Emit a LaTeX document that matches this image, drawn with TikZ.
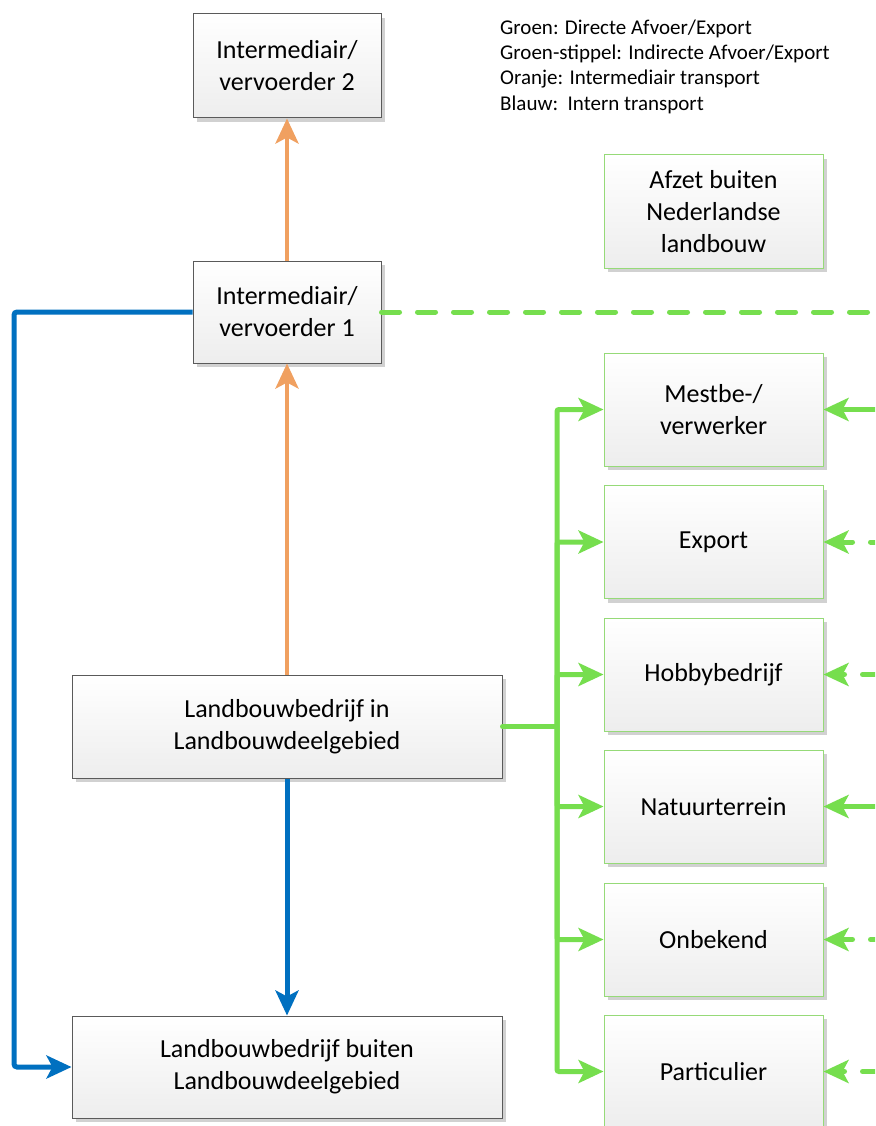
\documentclass[tikz,border=0pt]{standalone}
\usepackage{fontspec}
\setmainfont{Carlito}
\usetikzlibrary{arrows.meta,shadows}
\definecolor{lgreen}{RGB}{118,222,78}
\definecolor{bgreen}{RGB}{150,218,120}
\definecolor{lblue}{RGB}{0,112,192}
\definecolor{lorange}{RGB}{240,160,96}
\definecolor{gborder}{RGB}{90,90,90}
\begin{document}
\begin{tikzpicture}[x=1pt,y=-1pt,
  box/.style={rectangle, line width=1pt, top color=white, bottom color=black!7,
    drop shadow={shadow xshift=4pt, shadow yshift=-4pt, opacity=0.18, fill=black},
    align=center, inner sep=0pt, font=\fontsize{26}{32}\selectfont},
  graybox/.style={box, draw=gborder, minimum width=188pt},
  greenbox/.style={box, draw=bgreen, minimum width=219pt, minimum height=113pt},
  widebox/.style={box, draw=gborder, minimum width=430pt, minimum height=103pt},
  tip/.style={-{Stealth[length=25pt,width=23pt,inset=6pt]}},
  gline/.style={draw=lgreen, line width=5pt},
  garrow/.style={gline, tip, rounded corners=2pt},
  gdash/.style={gline, line cap=round, dash pattern=on 18pt off 18pt},
  barrow/.style={draw=lblue, line width=5pt, tip, rounded corners=3pt},
  oarrow/.style={draw=lorange, line width=4.5pt, tip},
  legend/.style={anchor=west, inner sep=0pt, font=\fontsize{21}{25}\selectfont}
]
\clip (0,0) rectangle (875,1126);
\fill[white] (0,0) rectangle (875,1126);

% gray boxes
\node[graybox, minimum height=104pt] (I2) at (287,66) {Intermediair/\\vervoerder 2};
\node[graybox, minimum height=102pt] (I1) at (287,312) {Intermediair/\\vervoerder 1};
\node[widebox] (Lin) at (287,726.5) {Landbouwbedrijf in\\Landbouwdeelgebied};
\node[widebox, minimum height=102pt] (Lout) at (287,1067) {Landbouwbedrijf buiten\\Landbouwdeelgebied};

% green boxes
\node[greenbox] (afz) at (713.5,211.5) {Afzet buiten\\Nederlandse\\landbouw};
\node[greenbox] (mest) at (713.5,409.5) {Mestbe-/\\verwerker};
\node[greenbox] (exp) at (713.5,542) {Export};
\node[greenbox] (hob) at (713.5,674.5) {Hobbybedrijf};
\node[greenbox] (nat) at (713.5,806.5) {Natuurterrein};
\node[greenbox] (onb) at (713.5,939.5) {Onbekend};
\node[greenbox] (par) at (713.5,1071.5) {Particulier};

% legend
\node[legend] (lg1) at (500,29) {Groen: Directe Afvoer/Export};
\node[legend] (lg2) at (500,54) {Groen-stippel: Indirecte Afvoer/Export};
\node[legend] (lg3) at (500,79) {Oranje: Intermediair transport};
\node[legend] (lg4) at (500,105) {Blauw:\ \ Intern transport};

% orange arrows
\draw[oarrow] (Lin.north) -- (I1.south);
\draw[oarrow] (I1.north) -- (I2.south);

% blue arrows
\coordinate (bl) at (14,312);
\draw[barrow] (I1.west) -- (bl) |- (Lout.west);
\draw[barrow] (Lin.south) -- (Lout.north);

% green direct
\coordinate (tj) at (557,726.5);
\draw[gline, line cap=round] (Lin.east) -- (tj);
\foreach \b in {mest,exp,hob,nat,onb,par}{
  \draw[garrow] (tj) |- (\b.west);
}

% green dashed top
\coordinate (dtop) at (900,312);
\draw[gdash] (I1.east) -- (dtop);

% right side incoming
\coordinate (rm) at (900,409.5);
\coordinate (re) at (900,542);
\coordinate (rh) at (900,674.5);
\coordinate (rn) at (900,806.5);
\coordinate (ro) at (900,939.5);
\coordinate (rp) at (900,1071.5);
\draw[gline, tip] (rm) -- (mest.east);
\draw[gline, tip] (rn) -- (nat.east);
\draw[gdash, dash phase=24.5pt, tip] (re) -- (exp.east);
\draw[gdash, dash phase=24.5pt, tip] (ro) -- (onb.east);
\draw[gdash, dash phase=16.5pt, tip] (rh) -- (hob.east);
\draw[gdash, dash phase=16.5pt, tip] (rp) -- (par.east);
\end{tikzpicture}
\end{document}
